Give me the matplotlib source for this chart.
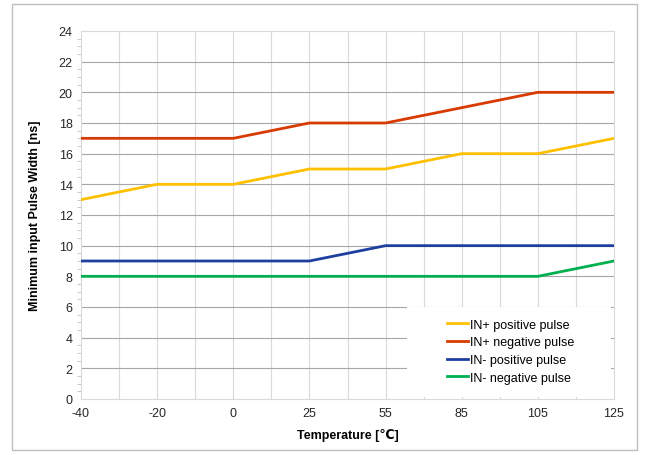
import matplotlib.pyplot as plt
from matplotlib.patches import Rectangle
from matplotlib.ticker import MultipleLocator

plt.rcParams['font.family'] = ['Liberation Sans', 'DejaVu Sans']

# Данные
temps = ["-40", "-20", "0", "25", "55", "85", "105", "125"]
in_plus_pos = [13, 14, 14, 15, 15, 16, 16, 17]
in_plus_neg = [17, 17, 17, 18, 18, 19, 20, 20]
in_minus_pos = [9, 9, 9, 9, 10, 10, 10, 10]
in_minus_neg = [8, 8, 8, 8, 8, 8, 8, 9]

series = [
    ("IN+ positive pulse", in_plus_pos, "#FFC000"),
    ("IN+ negative pulse", in_plus_neg, "#D83B01"),
    ("IN- positive pulse", in_minus_pos, "#1F3FA0"),
    ("IN- negative pulse", in_minus_neg, "#00B050"),
]

fig = plt.figure(figsize=(6.48, 4.56), dpi=100)
fig.patches.append(Rectangle((0.019, 0.01), 0.964, 0.978, transform=fig.transFigure,
                             fill=False, edgecolor="#bfbfbf", linewidth=1))
ax = fig.add_axes([81 / 648, 1 - 400 / 456, (614 - 81) / 648, (400 - 32) / 456])

x = list(range(len(temps)))
for label, vals, color in series:
    ax.plot(x, vals, color=color, linewidth=2, label=label, zorder=3)

ax.set_xlim(0, len(temps) - 1)
ax.set_ylim(0, 24)
ax.set_xticks(x)
ax.set_xticklabels(temps)
ax.yaxis.set_major_locator(MultipleLocator(2))
ax.yaxis.set_minor_locator(MultipleLocator(0.5))
ax.xaxis.set_minor_locator(MultipleLocator(0.5))

# сетка
for xv in [i * 0.5 for i in range(1, 2 * (len(temps) - 1))]:
    ax.axvline(xv, color="#d9d9d9", linewidth=0.8, zorder=1)
for yv in range(2, 24, 2):
    ax.axhline(yv, color="#a6a6a6", linewidth=0.8, zorder=1)

for side in ["left", "bottom", "top", "right"]:
    ax.spines[side].set_color("#d9d9d9")
ax.tick_params(axis="both", which="major", length=0, labelsize=9, colors="#262626", pad=6)
ax.tick_params(axis="y", which="minor", length=3, color="#bfbfbf")
ax.tick_params(axis="x", which="minor", length=0)

ax.set_xlabel("Temperature [℃]", fontsize=9, fontweight="bold", labelpad=6)
ax.set_ylabel("Minimum input Pulse Width [ns]", fontsize=9, fontweight="bold", labelpad=13)

# белая подложка легенды
ax.add_patch(Rectangle((0.612, 0.005), 0.383, 0.245, transform=ax.transAxes,
                       facecolor="white", edgecolor="none", zorder=4))
leg = ax.legend(loc="center", bbox_to_anchor=(0.806, 0.13), fontsize=9, frameon=False,
                handlelength=1.7, handletextpad=0.1, labelspacing=0.45, borderpad=0)
leg.set_zorder(5)

fig.savefig("out.png", dpi=100)
